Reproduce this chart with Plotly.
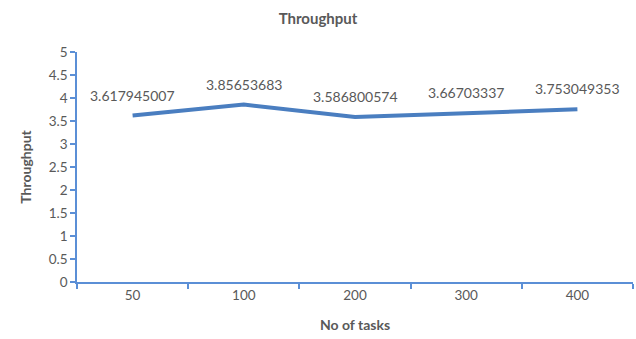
import plotly.graph_objects as go

# Throughput measured for each batch size of tasks
tasks = ["50", "100", "200", "300", "400"]
throughput = [3.617945007, 3.85653683, 3.586800574, 3.66703337, 3.753049353]
labels = ["3.617945007", "3.85653683", "3.586800574", "3.66703337", "3.753049353"]

axis_blue = "#5B8FD6"
text_gray = "#595959"
font_family = "Lato, 'Open Sans', sans-serif"

fig = go.Figure()
fig.add_trace(go.Scatter(
    x=tasks,
    y=throughput,
    mode="lines",
    line=dict(color="#4A7EC0", width=4),
    hoverinfo="x+y",
))

# Value labels sit a little above each point of the line
# (category axes place annotations by category index)
for idx, (yv, txt) in enumerate(zip(throughput, labels)):
    fig.add_annotation(
        x=idx, y=yv, text=txt,
        xref="x", yref="y",
        showarrow=False,
        yanchor="bottom",
        yshift=10,
        font=dict(family=font_family, size=14, color=text_gray),
    )

fig.update_layout(
    width=636,
    height=339,
    margin=dict(l=77, r=3, t=52, b=57),
    paper_bgcolor="white",
    plot_bgcolor="white",
    showlegend=False,
    font=dict(family=font_family, color=text_gray, size=13),
    title=dict(
        text="<b>Throughput</b>",
        x=0.5,
        xanchor="center",
        y=0.945,
        yanchor="middle",
        font=dict(family=font_family, size=15, color=text_gray),
    ),
)

fig.update_xaxes(
    type="category",
    range=[-0.5, 4.5],
    showgrid=False,
    showline=True,
    linecolor=axis_blue,
    linewidth=1.5,
    ticks="outside",
    tickson="boundaries",
    ticklen=5,
    tickcolor=axis_blue,
    tickwidth=1.5,
    tickfont=dict(family=font_family, size=13.5, color=text_gray),
    title=dict(text="<b>No of tasks</b>", standoff=18,
               font=dict(family=font_family, size=14, color=text_gray)),
    zeroline=False,
)

fig.update_yaxes(
    range=[0, 5],
    dtick=0.5,
    showgrid=False,
    showline=True,
    linecolor=axis_blue,
    linewidth=1.5,
    ticks="outside",
    ticklen=5,
    tickcolor=axis_blue,
    tickwidth=1.5,
    tickfont=dict(family=font_family, size=13.5, color=text_gray),
    title=dict(text="<b>Throughput</b>", standoff=14,
               font=dict(family=font_family, size=14, color=text_gray)),
    zeroline=False,
)

fig.write_html("out.html")
